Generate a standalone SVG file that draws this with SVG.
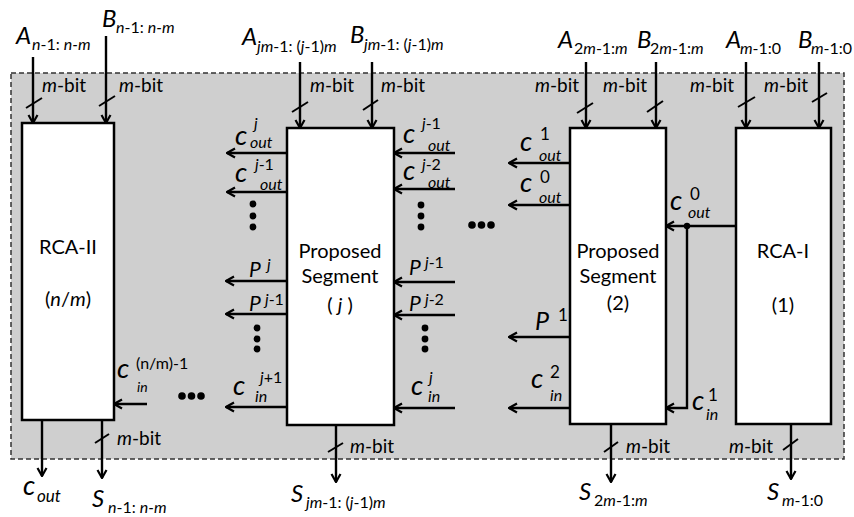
<svg xmlns="http://www.w3.org/2000/svg" width="854" height="517" viewBox="0 0 854 517">
<defs>
<marker id="ah" viewBox="0 0 10 12" refX="9" refY="6" markerWidth="10" markerHeight="12" markerUnits="userSpaceOnUse" orient="auto">
<path d="M1,1.5 L9,6 L1,10.5" fill="none" stroke="#000" stroke-width="2.2"/>
</marker>
<style>
.box{fill:#fff;stroke:#000;stroke-width:2.5}
.a{stroke:#000;stroke-width:2.4;fill:none;marker-end:url(#ah)}
.sl{stroke:#000;stroke-width:2}
text{font-family:Lato,"Liberation Sans",sans-serif;fill:#000}
.bl{font-size:20px;text-anchor:middle}
.mb{font-size:19px}
.L{font-size:24px;font-style:italic}
.sb{font-size:16px}
.c{font-size:27px;font-style:italic}
.P{font-size:21px;font-style:italic}
.su{font-size:16px}
.o{font-size:16px;font-style:italic}
.i{font-style:italic}
.d{fill:#000}
</style>
</defs>
<rect x="11" y="73" width="833" height="386" fill="#cfcfcf" stroke="#333" stroke-width="1.5" stroke-dasharray="5,3"/>

<g id="connectors">
<line class="a" x1="33" y1="57" x2="33" y2="123"/>
<line class="a" x1="106" y1="36" x2="106" y2="123"/>
<line class="sl" x1="26" y1="108" x2="42" y2="98"/>
<line class="sl" x1="99" y1="106" x2="115" y2="96"/>
<line class="a" x1="147" y1="404" x2="114" y2="404"/>
<line class="a" x1="42" y1="420" x2="42" y2="476"/>
<line class="a" x1="102" y1="420" x2="102" y2="478"/>
<line class="sl" x1="95" y1="443" x2="109" y2="434"/>
<line class="a" x1="300" y1="62" x2="300" y2="128"/>
<line class="a" x1="372" y1="62" x2="372" y2="128"/>
<line class="sl" x1="292" y1="112" x2="308" y2="102"/>
<line class="sl" x1="363" y1="110" x2="378" y2="100"/>
<line class="a" x1="287" y1="153" x2="227" y2="153"/>
<line class="a" x1="287" y1="192" x2="227" y2="192"/>
<line class="a" x1="287" y1="281" x2="226" y2="281"/>
<line class="a" x1="287" y1="314" x2="226" y2="314"/>
<line class="a" x1="287" y1="407" x2="226" y2="407"/>
<line class="a" x1="455" y1="153" x2="394" y2="153"/>
<line class="a" x1="455" y1="189" x2="394" y2="189"/>
<line class="a" x1="455" y1="282" x2="394" y2="282"/>
<line class="a" x1="455" y1="315" x2="394" y2="315"/>
<line class="a" x1="455" y1="408" x2="394" y2="408"/>
<line class="a" x1="336" y1="425" x2="336" y2="482"/>
<line class="sl" x1="328" y1="452" x2="343" y2="443"/>
<line class="a" x1="586" y1="62" x2="586" y2="128"/>
<line class="a" x1="656" y1="62" x2="656" y2="128"/>
<line class="sl" x1="577" y1="113" x2="593" y2="103"/>
<line class="sl" x1="647" y1="112" x2="663" y2="101"/>
<line class="a" x1="570" y1="163" x2="509" y2="163"/>
<line class="a" x1="570" y1="205" x2="509" y2="205"/>
<line class="a" x1="570" y1="337" x2="509" y2="337"/>
<line class="a" x1="570" y1="408" x2="509" y2="408"/>
<line class="a" x1="611" y1="424" x2="611" y2="482"/>
<line class="sl" x1="604" y1="452" x2="618" y2="442"/>
<line class="a" x1="736" y1="226" x2="666" y2="226"/>
<polyline class="a" points="687,226 687,408 666,408"/>
<circle class="d" cx="687" cy="226" r="3.2"/>
<line class="a" x1="746" y1="62" x2="746" y2="128"/>
<line class="a" x1="819" y1="62" x2="819" y2="128"/>
<line class="sl" x1="738" y1="107" x2="755" y2="97"/>
<line class="sl" x1="812" y1="102" x2="827" y2="93"/>
<line class="a" x1="791" y1="424" x2="791" y2="479"/>
<line class="sl" x1="783" y1="450" x2="798" y2="439"/>
</g>

<g id="rca2">
<rect class="box" x="22" y="123" width="92" height="297"/>
<text class="bl" x="68" y="254">RCA-II</text>
<text class="bl" x="68" y="306">(<tspan class="i">n</tspan>/<tspan class="i">m</tspan>)</text>
</g>
<g id="segj">
<rect class="box" x="287" y="128" width="107" height="297"/>
<text class="bl" x="340" y="258">Proposed</text>
<text class="bl" x="340" y="283">Segment</text>
<text class="bl" x="340" y="312">( <tspan class="i">j</tspan> )</text>
</g>
<g id="seg2">
<rect class="box" x="570" y="128" width="96" height="296"/>
<text class="bl" x="618" y="258">Proposed</text>
<text class="bl" x="618" y="283">Segment</text>
<text class="bl" x="618" y="310">(2)</text>
</g>
<g id="rca1">
<rect class="box" x="736" y="128" width="95" height="296"/>
<text class="bl" x="783" y="258">RCA-I</text>
<text class="bl" x="783" y="312">(1)</text>
</g>

<g id="dots">
<circle class="d" cx="182" cy="396" r="3.8"/><circle class="d" cx="191.5" cy="396" r="3.8"/><circle class="d" cx="201" cy="396" r="3.8"/>
<circle class="d" cx="472" cy="225" r="3.8"/><circle class="d" cx="481.5" cy="225" r="3.8"/><circle class="d" cx="491" cy="225" r="3.8"/>
<circle class="d" cx="253" cy="204" r="3.4"/><circle class="d" cx="253" cy="216" r="3.4"/><circle class="d" cx="253" cy="227" r="3.4"/>
<circle class="d" cx="421" cy="205" r="3.4"/><circle class="d" cx="421" cy="216" r="3.4"/><circle class="d" cx="421" cy="227" r="3.4"/>
<circle class="d" cx="257" cy="328" r="3.4"/><circle class="d" cx="257" cy="339" r="3.4"/><circle class="d" cx="257" cy="349" r="3.4"/>
<circle class="d" cx="425" cy="328" r="3.4"/><circle class="d" cx="425" cy="339" r="3.4"/><circle class="d" cx="425" cy="349" r="3.4"/>
</g>

<g id="labels">
<text class="L" x="16" y="44">A</text><text class="sb" x="32" y="50"><tspan class="i">n</tspan>-1: <tspan class="i">n-m</tspan></text>
<text class="L" x="102" y="27">B</text><text class="sb" x="116" y="33"><tspan class="i">n</tspan>-1: <tspan class="i">n-m</tspan></text>
<text class="L" x="242" y="45">A</text><text class="sb" x="257" y="52"><tspan class="i">jm</tspan>-1: (<tspan class="i">j</tspan>-1)<tspan class="i">m</tspan></text>
<text class="L" x="350" y="43">B</text><text class="sb" x="364" y="50"><tspan class="i">jm</tspan>-1: (<tspan class="i">j</tspan>-1)<tspan class="i">m</tspan></text>
<text class="L" x="558" y="48">A</text><text class="sb" x="574" y="54">2<tspan class="i">m</tspan>-1:<tspan class="i">m</tspan></text>
<text class="L" x="637" y="48">B</text><text class="sb" x="650" y="54">2<tspan class="i">m</tspan>-1:<tspan class="i">m</tspan></text>
<text class="L" x="726" y="48">A</text><text class="sb" x="740" y="54"><tspan class="i">m</tspan>-1:0</text>
<text class="L" x="798" y="48">B</text><text class="sb" x="811" y="54"><tspan class="i">m</tspan>-1:0</text>
<text class="mb" x="42" y="92"><tspan class="i">m</tspan>-bit</text>
<text class="mb" x="119" y="92"><tspan class="i">m</tspan>-bit</text>
<text class="mb" x="310" y="92"><tspan class="i">m</tspan>-bit</text>
<text class="mb" x="381" y="92"><tspan class="i">m</tspan>-bit</text>
<text class="mb" x="535" y="92"><tspan class="i">m</tspan>-bit</text>
<text class="mb" x="603" y="92"><tspan class="i">m</tspan>-bit</text>
<text class="mb" x="690" y="92"><tspan class="i">m</tspan>-bit</text>
<text class="mb" x="764" y="92"><tspan class="i">m</tspan>-bit</text>
<text class="mb" x="117" y="445"><tspan class="i">m</tspan>-bit</text>
<text class="mb" x="350" y="453"><tspan class="i">m</tspan>-bit</text>
<text class="mb" x="626" y="453"><tspan class="i">m</tspan>-bit</text>
<text class="mb" x="729" y="453"><tspan class="i">m</tspan>-bit</text>
<text class="c" x="117" y="378">c</text><text class="su" x="136" y="369">(n/m)-1</text><text class="o" x="137" y="392" style="font-size:14px">in</text>
<text class="c" x="235" y="145">c</text><text class="su i" x="254" y="129">j</text><text class="o" x="250" y="148">out</text>
<text class="c" x="235" y="182">c</text><text class="su" x="255" y="170"><tspan class="i">j</tspan>-1</text><text class="o" x="260" y="190">out</text>
<text class="P" x="249" y="277">P</text><text class="su i" x="267" y="270">j</text>
<text class="P" x="249" y="311">P</text><text class="su" x="265" y="305"><tspan class="i">j</tspan>-1</text>
<text class="c" x="233" y="395">c</text><text class="su" x="260" y="383"><tspan class="i">j</tspan>+1</text><text class="o" x="255" y="402">in</text>
<text class="c" x="403" y="143">c</text><text class="su" x="422" y="129"><tspan class="i">j</tspan>-1</text><text class="o" x="428" y="151">out</text>
<text class="c" x="403" y="180">c</text><text class="su" x="422" y="170"><tspan class="i">j</tspan>-2</text><text class="o" x="428" y="188">out</text>
<text class="P" x="409" y="275">P</text><text class="su" x="425" y="268"><tspan class="i">j</tspan>-1</text>
<text class="P" x="409" y="311">P</text><text class="su" x="425" y="305"><tspan class="i">j</tspan>-2</text>
<text class="c" x="411" y="395">c</text><text class="su i" x="429" y="383">j</text><text class="o" x="428" y="402">in</text>
<text class="c" x="520" y="151">c</text><text class="sb" x="540" y="140" style="font-size:17px">1</text><text class="o" x="539" y="161">out</text>
<text class="c" x="520" y="192">c</text><text class="sb" x="540" y="183" style="font-size:17px">0</text><text class="o" x="539" y="203">out</text>
<text class="P" x="535" y="330" style="font-size:25px">P</text><text class="sb" x="558" y="321" style="font-size:17px">1</text>
<text class="c" x="531" y="388">c</text><text class="sb" x="550" y="378" style="font-size:17px">2</text><text class="o" x="550" y="401">in</text>
<text class="c" x="670" y="210">c</text><text class="sb" x="690" y="200" style="font-size:17px">0</text><text class="o" x="688" y="218">out</text>
<text class="c" x="692" y="410">c</text><text class="sb" x="708" y="401" style="font-size:17px">1</text><text class="o" x="706" y="420">in</text>
<text class="c" x="23" y="495">c</text><text class="o" x="37" y="502" style="font-size:17px">out</text>
<text class="L" x="92" y="507">S</text><text class="sb" x="108" y="513"><tspan class="i">n</tspan>-1: <tspan class="i">n-m</tspan></text>
<text class="L" x="291" y="502">S</text><text class="sb" x="306" y="508"><tspan class="i">jm</tspan>-1: (<tspan class="i">j</tspan>-1)<tspan class="i">m</tspan></text>
<text class="L" x="579" y="500">S</text><text class="sb" x="594" y="506">2<tspan class="i">m</tspan>-1:<tspan class="i">m</tspan></text>
<text class="L" x="767" y="500">S</text><text class="sb" x="782" y="506"><tspan class="i">m</tspan>-1:0</text>
</g>
</svg>
